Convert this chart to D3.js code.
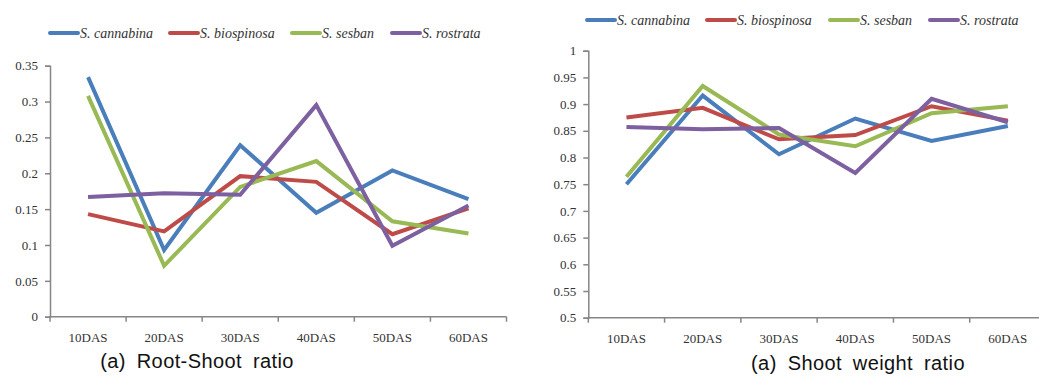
<!DOCTYPE html>
<html>
<head>
<meta charset="utf-8">
<script src="https://cdn.jsdelivr.net/npm/d3@7"></script>
<style>
  body { margin: 0; background: #fff; }
  svg { display: block; }
  .serif { font-family: 'Liberation Serif', 'Times New Roman', Times, serif; }
</style>
</head>
<body>
<svg></svg>
<script>
const days = ['10DAS', '20DAS', '30DAS', '40DAS', '50DAS', '60DAS'];
const speciesNames = ['S. cannabina', 'S. biospinosa', 'S. sesban', 'S. rostrata'];
const colors = ['#4a7ebb', '#be4b48', '#98b954', '#7d60a0'];

// Root-Shoot ratio
const rootCannabina = [0.334, 0.093, 0.239, 0.145, 0.204, 0.164];
const rootBiospinosa = [0.143, 0.119, 0.196, 0.188, 0.115, 0.151];
const rootSesban = [0.308, 0.071, 0.181, 0.217, 0.133, 0.116];
const rootRostrata = [0.167, 0.172, 0.170, 0.295, 0.099, 0.155];
const rootTicks = [0, 0.05, 0.1, 0.15, 0.2, 0.25, 0.3, 0.35];

// Shoot weight ratio
const shootCannabina = [0.750, 0.916, 0.806, 0.873, 0.831, 0.859];
const shootBiospinosa = [0.875, 0.893, 0.834, 0.842, 0.896, 0.869];
const shootSesban = [0.764, 0.934, 0.843, 0.821, 0.883, 0.896];
const shootRostrata = [0.857, 0.853, 0.855, 0.771, 0.910, 0.866];
const shootTicks = [0.5, 0.55, 0.6, 0.65, 0.7, 0.75, 0.8, 0.85, 0.9, 0.95, 1];

const svg = d3.select('svg').attr('width', 1039).attr('height', 376);

function drawChart(opt) {
  const g = svg.append('g');
  const x = d3.scaleBand().domain(days).range(opt.xRange);
  const y = d3.scaleLinear().domain(opt.yDomain).range(opt.yRange);

  // y axis
  const yAxis = g.append('g')
    .attr('transform', `translate(${opt.xRange[0]},0)`)
    .call(d3.axisLeft(y).tickValues(opt.yTicks).tickSize(5).tickPadding(7)
      .tickFormat(d => String(+d.toFixed(2))));
  yAxis.attr('font-family', null).attr('font-size', null);
  yAxis.select('.domain').attr('stroke', '#868686').attr('stroke-width', 1.5);
  yAxis.selectAll('.tick line').attr('stroke', '#868686').attr('stroke-width', 1.5);
  yAxis.selectAll('.tick text')
    .attr('class', 'serif')
    .attr('fill', '#333')
    .attr('font-size', 13);

  // x axis with ticks at band edges
  const y0 = opt.yRange[0];
  const edges = days.map(d => x(d)).concat([x.range()[1]]);
  g.append('line')
    .attr('x1', opt.xRange[0]).attr('x2', opt.xRange[1])
    .attr('y1', y0).attr('y2', y0)
    .attr('stroke', '#868686').attr('stroke-width', 1.5);
  g.selectAll('.xtick').data(edges).enter().append('line')
    .attr('x1', d => d).attr('x2', d => d)
    .attr('y1', y0).attr('y2', y0 + 5)
    .attr('stroke', '#868686').attr('stroke-width', 1.5);
  g.selectAll('.xlabel').data(days).enter().append('text')
    .attr('class', 'serif')
    .attr('x', d => x(d) + x.bandwidth() / 2)
    .attr('y', y0 + 25)
    .attr('text-anchor', 'middle')
    .attr('fill', '#333')
    .attr('font-size', 13)
    .text(d => d);

  // lines
  const line = d3.line()
    .x((d, i) => x(days[i]) + x.bandwidth() / 2)
    .y(d => y(d));
  opt.series.forEach((s, i) => {
    g.append('path')
      .datum(s)
      .attr('d', line)
      .attr('fill', 'none')
      .attr('stroke', colors[i])
      .attr('stroke-width', 4)
      .attr('stroke-linejoin', 'miter');
  });

  // legend
  const leg = g.append('g');
  opt.legendX.forEach((lx, i) => {
    leg.append('line')
      .attr('x1', lx).attr('x2', lx + 28)
      .attr('y1', opt.legendY).attr('y2', opt.legendY)
      .attr('stroke', colors[i]).attr('stroke-width', 4)
      .attr('stroke-linecap', 'round');
    leg.append('text')
      .attr('class', 'serif')
      .attr('x', lx + 30)
      .attr('y', opt.legendY + 5)
      .attr('fill', '#333')
      .attr('font-style', 'italic')
      .attr('font-size', 14)
      .text(speciesNames[i]);
  });

  // caption
  g.append('text')
    .attr('x', opt.captionX)
    .attr('y', opt.captionY)
    .attr('text-anchor', 'middle')
    .attr('fill', '#111')
    .attr('word-spacing', '5px')
    .attr('letter-spacing', '0.4px')
    .style('font-family', "'Liberation Sans', Arial, sans-serif")
    .style('font-size', '20px')
    .text(opt.caption);
}

drawChart({
  xRange: [50, 506.5],
  yDomain: [0, 0.35],
  yRange: [316.7, 65.7],
  yTicks: rootTicks,
  series: [rootCannabina, rootBiospinosa, rootSesban, rootRostrata],
  legendX: [50, 170, 292, 392],
  legendY: 33,
  caption: '(a) Root-Shoot ratio',
  captionX: 197,
  captionY: 368
});

drawChart({
  xRange: [588.3, 1046],
  yDomain: [0.5, 1],
  yRange: [317.7, 50.7],
  yTicks: shootTicks,
  series: [shootCannabina, shootBiospinosa, shootSesban, shootRostrata],
  legendX: [587, 707, 830, 930],
  legendY: 20,
  caption: '(a) Shoot weight ratio',
  captionX: 858,
  captionY: 370
});
</script>
</body>
</html>
